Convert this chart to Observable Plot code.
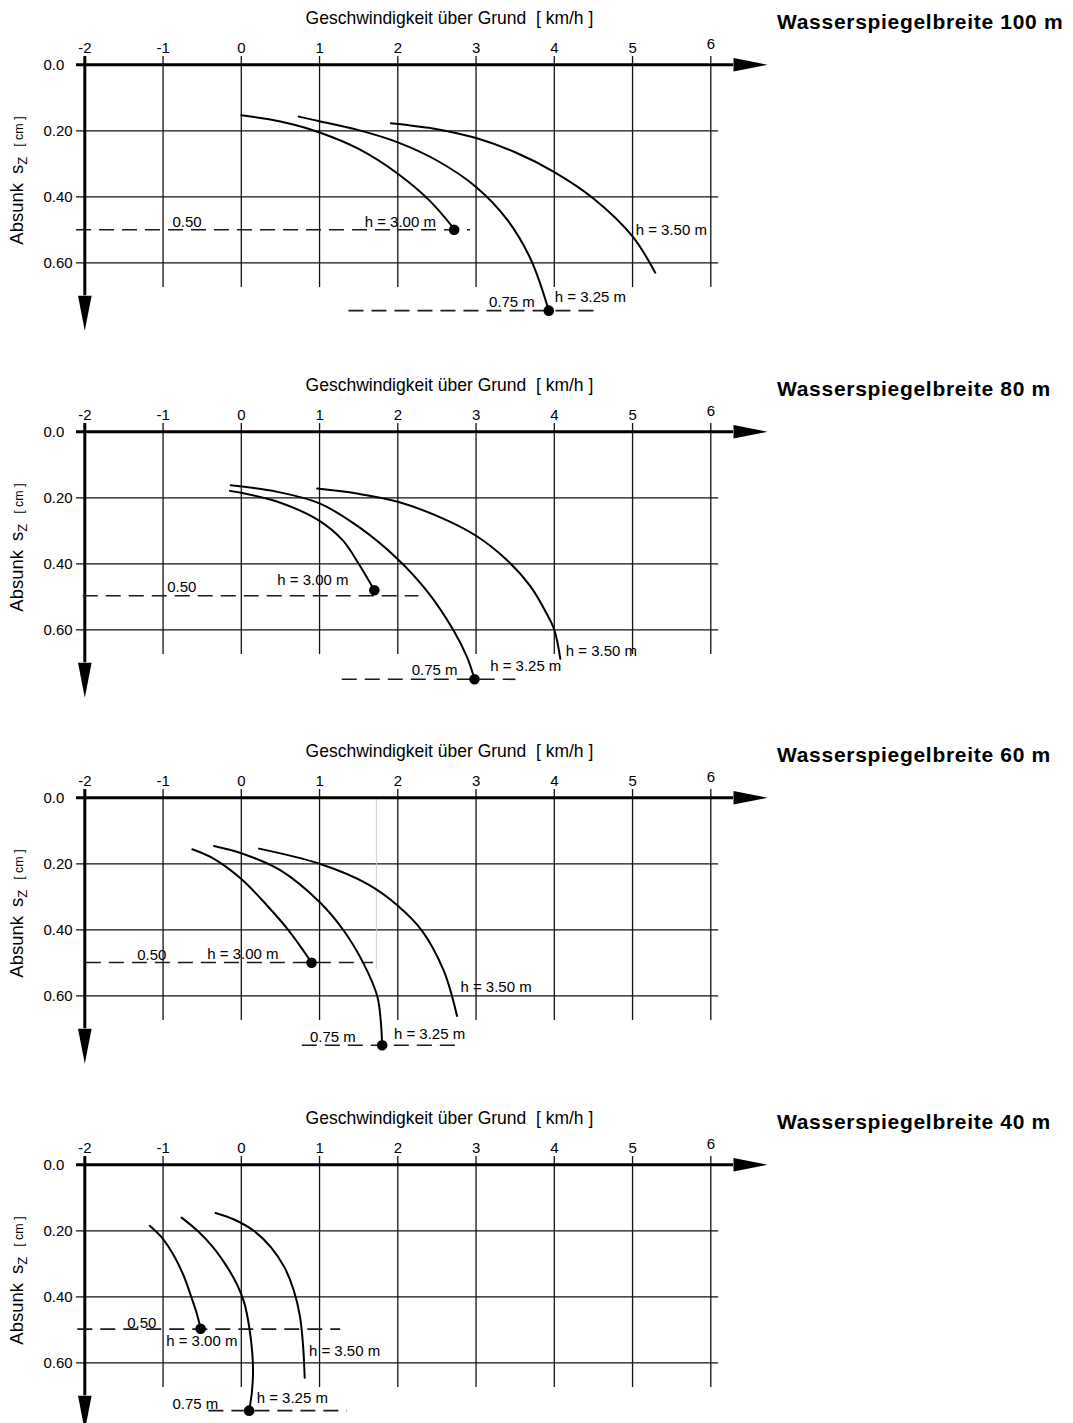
<!DOCTYPE html>
<html>
<head>
<meta charset="utf-8">
<script src="https://cdn.jsdelivr.net/npm/d3@7"></script>
<script src="https://cdn.jsdelivr.net/npm/@observablehq/plot@0.6"></script>
<style>
  html, body { margin: 0; padding: 0; background: #fff; }
  body { width: 1073px; height: 1423px; overflow: hidden; font-family: "Liberation Sans", Arial, sans-serif; }
  .panel { position: relative; width: 1073px; height: 366.6px; }
  .panel svg { display: block; }
  .title { position: absolute; left: 777px; top: 9px; font-weight: bold; font-size: 21px; letter-spacing: 0.7px; line-height: 25px; white-space: nowrap; color: #000; }
</style>
</head>
<body>
<div id="chart"></div>
<script>
// ---------- data ----------
const panelTitles = ["Wasserspiegelbreite 100 m", "Wasserspiegelbreite 80 m", "Wasserspiegelbreite 60 m", "Wasserspiegelbreite 40 m"];
const xTicks = [-2, -1, 0, 1, 2, 3, 4, 5, 6];
const yTicks = [0, 0.2, 0.4, 0.6];
const xTitle = "Geschwindigkeit über Grund\u00a0\u00a0[ km/h ]";

// curves per panel (100 m, 80 m, 60 m, 40 m): [speed km/h, Absunk]
const h300 = [
  [[0, 0.153], [0.5, 0.172], [1.0, 0.205], [1.5, 0.255], [2.0, 0.33], [2.4, 0.41], [2.72, 0.497]],
  [[-0.145, 0.179], [0, 0.185], [0.5, 0.215], [1.0, 0.27], [1.3, 0.33], [1.5, 0.40], [1.70, 0.48]],
  [[-0.626, 0.156], [-0.349, 0.185], [0, 0.246], [0.332, 0.327], [0.609, 0.403], [0.898, 0.499]],
  [[-1.17, 0.185], [-1.0, 0.225], [-0.85, 0.28], [-0.73, 0.34], [-0.64, 0.40], [-0.57, 0.45], [-0.52, 0.497]]
];
const h325 = [
  [[0.733, 0.157], [1.0, 0.171], [1.5, 0.198], [2.0, 0.235], [2.5, 0.29], [3.0, 0.37], [3.4, 0.47], [3.7, 0.59], [3.93, 0.745]],
  [[-0.136, 0.162], [0.46, 0.182], [1.0, 0.217], [1.523, 0.292], [2.0, 0.386], [2.374, 0.483], [2.715, 0.603], [2.885, 0.683], [2.98, 0.749]],
  [[-0.349, 0.146], [0, 0.168], [0.502, 0.22], [1.0, 0.316], [1.31, 0.403], [1.566, 0.504], [1.736, 0.60], [1.78, 0.67], [1.80, 0.75]],
  [[-0.763, 0.16], [-0.56, 0.20], [-0.36, 0.25], [-0.18, 0.31], [-0.05, 0.365], [0.04, 0.42], [0.10, 0.49], [0.14, 0.57], [0.15, 0.63], [0.135, 0.69], [0.10, 0.745]]
];
const h350 = [
  [[1.912, 0.177], [2.5, 0.195], [3.0, 0.222], [3.5, 0.265], [4.0, 0.325], [4.5, 0.405], [5.0, 0.52], [5.29, 0.63]],
  [[0.97, 0.172], [1.5, 0.188], [2.0, 0.212], [2.5, 0.255], [3.0, 0.315], [3.4, 0.39], [3.7, 0.47], [3.9, 0.55], [4.0, 0.60], [4.077, 0.688]],
  [[0.226, 0.154], [1.0, 0.20], [1.609, 0.261], [2.0, 0.327], [2.31, 0.403], [2.587, 0.524], [2.757, 0.661]],
  [[-0.33, 0.146], [-0.1, 0.165], [0.16, 0.20], [0.38, 0.25], [0.55, 0.31], [0.67, 0.38], [0.75, 0.46], [0.79, 0.55], [0.81, 0.645]]
];
// end points (dots)
const dots300 = [[2.72, 0.50], [1.70, 0.48], [0.898, 0.50], [-0.52, 0.497]];
const dots325 = [[3.93, 0.745], [2.98, 0.75], [1.80, 0.75], [0.10, 0.745]];
// dashed reference lines: [x1, x2, y]
const rule050 = [[-2.106, 2.93, 0.50], [-2.02, 2.27, 0.497], [-1.98, 1.69, 0.499], [-2.09, 1.27, 0.498]];
const rule075 = [[1.376, 4.595, 0.745], [1.29, 3.51, 0.75], [0.78, 2.80, 0.75], [-0.414, 1.355, 0.745]];
// faint helper line seen in the 60 m panel: [x, y1, y2]
const faint = [null, null, [1.726, 0, 0.52], null];
// annotations: [text, x, y]
const labels = [
  [["0.50", -0.88, 0.477], ["h = 3.00 m", 1.577, 0.477], ["h = 3.50 m", 5.04, 0.50], ["h = 3.25 m", 4.006, 0.704], ["0.75 m", 3.166, 0.719]],
  [["0.50", -0.946, 0.47], ["h = 3.00 m", 0.46, 0.45], ["0.75 m", 2.178, 0.722], ["h = 3.25 m", 3.18, 0.709], ["h = 3.50 m", 4.147, 0.666]],
  [["0.50", -1.33, 0.477], ["h = 3.00 m", -0.435, 0.475], ["0.75 m", 0.877, 0.725], ["h = 3.25 m", 1.95, 0.715], ["h = 3.50 m", 2.80, 0.575]],
  [["0.50", -1.458, 0.48], ["h = 3.00 m", -0.96, 0.535], ["h = 3.50 m", 0.864, 0.565], ["h = 3.25 m", 0.196, 0.707], ["0.75 m", -0.88, 0.725]]
];

// ---------- layout constants ----------
const W = 1073, H = 366.6;
const mL = 84.3, mR = W - 710.3, mT = 64.3, mB = H - 262.3;
const axisXStart = -2.106, axisXEnd = 6.29;   // horizontal axis extent (arrow base)
const axisYStart = -0.025, axisYEnd = 0.70;  // vertical axis extent (arrow base)
const gridXEnd = 6.1, gridYEnd = 0.675;
const xTitleAt = 2.66, yTitleAt = 0.352;

const arrowRight = { draw(ctx) { ctx.moveTo(0, -6.8); ctx.lineTo(34, 0); ctx.lineTo(0, 6.8); ctx.closePath(); } };
const arrowDown = { draw(ctx) { ctx.moveTo(-6.8, 0); ctx.lineTo(0, 35); ctx.lineTo(6.8, 0); ctx.closePath(); } };

const font = '"Liberation Sans", Arial, sans-serif';
const chart = document.getElementById("chart");

panelTitles.forEach((title, i) => {
  const series = [
    ...h300[i].map(([x, y]) => ({x, y, h: "3.00"})),
    ...h325[i].map(([x, y]) => ({x, y, h: "3.25"})),
    ...h350[i].map(([x, y]) => ({x, y, h: "3.50"}))
  ];
  const ends = [dots300[i], dots325[i]];
  const rules = [rule050[i], rule075[i]];
  const marks = [
    Plot.ruleX(xTicks.slice(1), {y1: axisYStart, y2: gridYEnd, stroke: "#111", strokeWidth: 1.3}),
    Plot.ruleY(yTicks.slice(1), {x1: axisXStart, x2: gridXEnd, stroke: "#111", strokeWidth: 1.3}),
  ];
  if (faint[i]) marks.push(Plot.ruleX([faint[i]], {x: d => d[0], y1: d => d[1], y2: d => d[2], stroke: "#d0d0d0", strokeWidth: 1}));
  marks.push(
    Plot.ruleY([0], {x1: axisXStart, x2: axisXEnd, stroke: "#000", strokeWidth: 3}),
    Plot.ruleX([xTicks[0]], {y1: axisYStart, y2: axisYEnd, stroke: "#000", strokeWidth: 3}),
    Plot.dot([[axisXEnd, 0]], {x: d => d[0], y: d => d[1], symbol: arrowRight, fill: "#000", stroke: "none"}),
    Plot.dot([[xTicks[0], axisYEnd]], {x: d => d[0], y: d => d[1], symbol: arrowDown, fill: "#000", stroke: "none"}),
    Plot.ruleY(rules, {x1: d => d[0], x2: d => d[1], y: d => d[2], stroke: "#1a1a1a", strokeWidth: 1.6, strokeDasharray: "15,8"}),
    Plot.line(series, {x: "x", y: "y", z: "h", curve: "catmull-rom", stroke: "#000", strokeWidth: 2}),
    Plot.dot(ends, {x: d => d[0], y: d => d[1], r: 5.3, fill: "#000", stroke: "none"}),
    Plot.text(labels[i], {x: d => d[1], y: d => d[2], text: d => d[0], textAnchor: "start", lineAnchor: "middle", fontSize: 15, fill: "#000"}),
    Plot.axisX(xTicks.slice(0, -1), {anchor: "top", tickSize: 0, tickPadding: 12, tickFormat: d => String(d), fontSize: 15, label: null}),
    Plot.axisX(xTicks.slice(-1), {anchor: "top", tickSize: 0, tickPadding: 16, tickFormat: d => String(d), fontSize: 15, label: null}),
    Plot.axisY(yTicks, {anchor: "left", tickSize: 0, tickPadding: 0, textAnchor: "start", dx: -41.3, tickFormat: d => d === 0 ? "0.0" : d.toFixed(2), fontSize: 15, label: null}),
    Plot.text([xTitle], {x: xTitleAt, frameAnchor: "top", lineAnchor: "middle", dy: -46, text: d => d, fontSize: 17.5, fill: "#000"})
  );
  const plot = Plot.plot({
    width: W, height: H,
    marginLeft: mL, marginRight: mR, marginTop: mT, marginBottom: mB,
    x: {domain: [xTicks[0], xTicks[xTicks.length - 1]]},
    y: {domain: [yTicks[0], yTicks[yTicks.length - 1]], reverse: true},
    style: {fontFamily: font, fontSize: "15px", color: "#000", background: "#fff"},
    marks
  });
  // y-axis title with subscript
  const yc = plot.scale("y").apply(yTitleAt);
  const t = d3.select(plot).append("text")
    .attr("transform", `translate(23,${yc}) rotate(-90)`)
    .attr("text-anchor", "middle")
    .attr("font-size", 18.5)
    .attr("fill", "#000")
    .attr("font-family", font);
  t.append("tspan").text("Absunk");
  t.append("tspan").attr("dx", 9).text("s");
  t.append("tspan").attr("dy", 4).attr("font-size", 13).text("Z");
  t.append("tspan").attr("dy", -4).attr("dx", 10).attr("font-size", 12.5).text("[ cm ]");

  const div = document.createElement("div");
  div.className = "panel";
  div.appendChild(plot);
  const h = document.createElement("div");
  h.className = "title";
  h.textContent = title;
  div.appendChild(h);
  chart.appendChild(div);
});
</script>
</body>
</html>
